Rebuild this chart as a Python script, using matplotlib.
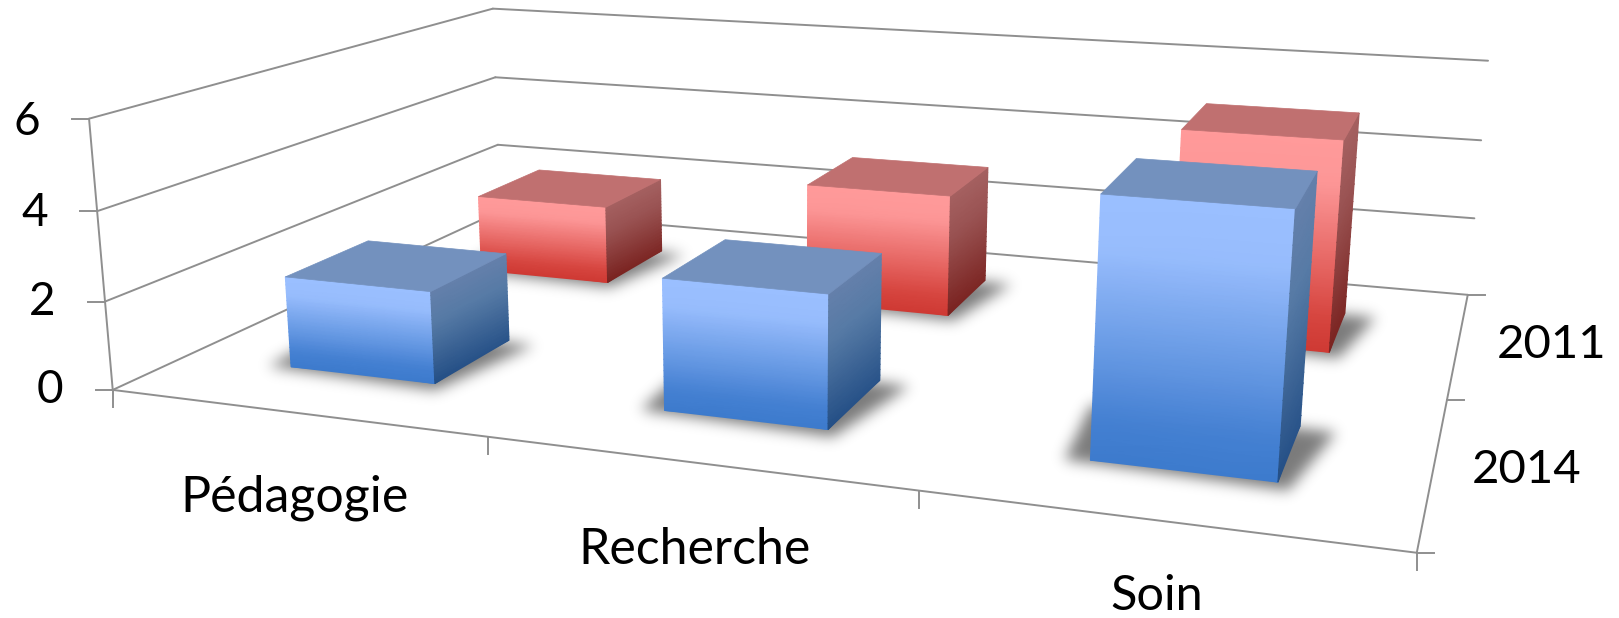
import numpy as np
import matplotlib
matplotlib.use("Agg")
import matplotlib.pyplot as plt
from matplotlib.colors import LinearSegmentedColormap
from matplotlib.path import Path

categories = ["Pédagogie", "Recherche", "Soin"]
series_names = ["2014", "2011"]
values_2014 = [2.1, 2.9, 5.4]
values_2011 = [2, 3, 5]
value_ticks = [0, 2, 4, 6]

# where known corners of the box landed in the picture: (cat, depth, value) -> pixel
box_points = [
    (0, 0, 0, 113, 388), (0, 0, 2, 105, 300), (0, 0, 4, 97, 211), (0, 0, 6, 89, 119),
    (1, 0, 0, 488, 438), (2, 0, 0, 920, 494), (3, 0, 0, 1415, 552),
    (0, 2, 0, 500, 212), (0, 2, 2, 498, 145), (0, 2, 4, 495, 77), (0, 2, 6, 493, 9),
    (3, 2, 0, 1467, 294), (3, 2, 2, 1475, 218), (3, 2, 4, 1481, 140), (3, 2, 6, 1488, 61),
    (3, 1, 0, 1448, 400),
]

W, H = 1619, 618
GRID = "#8f8f8f"
BAR_HALF_W = 0.2
BAR_HALF_D = 0.195
BAR_SHIFT = -0.003


def fit_camera(points):
    rows = []
    for x, y, z, u, v in points:
        u, v = u / 1000, v / 1000
        rows.append([x, y, z, 1, 0, 0, 0, 0, -u * x, -u * y, -u * z, -u])
        rows.append([0, 0, 0, 0, x, y, z, 1, -v * x, -v * y, -v * z, -v])
    return np.linalg.svd(np.array(rows, float))[2][-1].reshape(3, 4)


CAMERA = fit_camera(box_points)


def project(x, y, z):
    x, y, z = np.broadcast_arrays(x, y, z)
    pts = np.stack([x, y, z, np.ones_like(x, dtype=float)], axis=-1)
    res = pts @ CAMERA.T
    return res[..., 0] / res[..., 2] * 1000, res[..., 1] / res[..., 2] * 1000


def line3d(ax, a, b):
    u, v = project(np.array([a[0], b[0]], float), np.array([a[1], b[1]], float), np.array([a[2], b[2]], float))
    ax.plot(u, v, color=GRID, lw=1.4, solid_capstyle="round", zorder=1)


def shaded_face(ax, xs, ys, zs, cmap, t):
    u, v = project(xs, ys, zs)
    ax.pcolormesh(u, v, t, cmap=cmap, vmin=0, vmax=1, shading="gouraud", zorder=3)


def draw_shadows(ax, centers, cy, sigma=7, strength=0.52):
    # soft shadows: fill the pushed-out footprints, blur them, show as an alpha image
    gx, gy = np.meshgrid(np.arange(W) + 0.5, np.arange(H) + 0.5)
    grid = np.column_stack([gx.ravel(), gy.ravel()])
    mask = np.zeros(W * H)
    y0, y1 = cy - BAR_HALF_D, cy + BAR_HALF_D
    for cx in centers:
        x0, x1 = cx - BAR_HALF_W, cx + BAR_HALF_W
        xs = np.array([x0 - 0.055, x1 + 0.025, x1 + 0.08, x0 - 0.08])
        ys = np.array([y0 - 0.015, y0 - 0.045, y1 - 0.02, y1 - 0.01])
        u, v = project(xs, ys, np.zeros(4))
        mask[Path(np.column_stack([u, v])).contains_points(grid)] = 1
    mask = mask.reshape(H, W)
    kernel = np.exp(-0.5 * (np.arange(-21, 22) / sigma) ** 2)
    kernel /= kernel.sum()
    mask = np.apply_along_axis(np.convolve, 0, mask, kernel, mode="same")
    mask = np.apply_along_axis(np.convolve, 1, mask, kernel, mode="same")
    rgba = np.zeros((H, W, 4))
    rgba[..., 3] = mask * strength
    ax.imshow(rgba, extent=(0, W, H, 0), aspect="auto", interpolation="bilinear", zorder=2)


def draw_bar(ax, cx, cy, value, front_cmap, side_cmap, top_color):
    x0, x1 = cx - BAR_HALF_W, cx + BAR_HALF_W
    y0, y1 = cy - BAR_HALF_D, cy + BAR_HALF_D
    zs = np.linspace(value, 0, 24)
    t = np.linspace(0, 1, 24)

    X, Z = np.meshgrid([x0, x1], zs)
    shaded_face(ax, X, np.full(X.shape, y0), Z, front_cmap, np.column_stack([t, t]))

    Y, Z = np.meshgrid([y0, y1], zs)
    shaded_face(ax, np.full(Y.shape, x1), Y, Z, side_cmap, np.column_stack([t, t * 0.92]))

    u, v = project(np.array([x0, x1, x1, x0]), np.array([y0, y0, y1, y1]), np.full(4, value))
    ax.fill(u, v, color=top_color, lw=0.5, ec=top_color, zorder=3)


blue_front = LinearSegmentedColormap.from_list("bf", [(0, "#9abfff"), (0.2, "#98bdfd"), (0.85, "#4480d2"), (1, "#3d7bcd")])
blue_side = LinearSegmentedColormap.from_list("bs", [(0, "#6580ab"), (0.35, "#567aa5"), (1, "#244f86")])
red_front = LinearSegmentedColormap.from_list("rf", [(0, "#ff9a9a"), (0.2, "#fd9797"), (0.85, "#d6443e"), (1, "#cf3a34")])
red_side = LinearSegmentedColormap.from_list("rs", [(0, "#a56161"), (0.35, "#995252"), (1, "#7a2320")])

fig = plt.figure(figsize=(W / 100, H / 100), dpi=100)
ax = fig.add_axes([0, 0, 1, 1])

# walls and floor
for val in value_ticks:
    line3d(ax, (0, 0, val), (0, 2, val))
    line3d(ax, (0, 2, val), (3, 2, val))
    u, v = project(0.0, 0.0, float(val))
    ax.plot([u - 17, u], [v, v], color=GRID, lw=1.4, zorder=1)
line3d(ax, (0, 0, 0), (0, 0, 6))
line3d(ax, (0, 0, 0), (3, 0, 0))
line3d(ax, (3, 0, 0), (3, 2, 0))
for i in range(len(categories) + 1):
    u, v = project(float(i), 0.0, 0.0)
    ax.plot([u, u], [v, v + 17], color=GRID, lw=1.4, zorder=1)
for j in range(len(series_names) + 1):
    u, v = project(3.0, float(j), 0.0)
    ax.plot([u, u + 17], [v, v], color=GRID, lw=1.4, zorder=1)

centers = [i + 0.5 + BAR_SHIFT for i in range(len(categories))]

# back row first so the front row paints over it
draw_shadows(ax, centers, 1.5)
for cx, val in zip(centers, values_2011):
    draw_bar(ax, cx, 1.5, val, red_front, red_side, "#c07070")
draw_shadows(ax, centers, 0.5)
for cx, val in zip(centers, values_2014):
    draw_bar(ax, cx, 0.5, val, blue_front, blue_side, "#7391be")

font = dict(family="Lato", color="black", ha="center", va="center", zorder=5)
for val, (u, v) in zip(value_ticks, [(50, 390), (42, 302), (35, 213), (27, 122)]):
    ax.text(u, v, str(val), fontsize=33, **font)
ax.text(294, 498, categories[0], fontsize=36, **font)
ax.text(694, 550, categories[1], fontsize=36, **font)
ax.text(1157, 596, categories[2], fontsize=35, **font)
ax.text(1527, 470, series_names[0], fontsize=34, **font)
ax.text(1552, 345, series_names[1], fontsize=34, **font)

ax.set_xlim(0, W)
ax.set_ylim(H, 0)
ax.axis("off")

fig.savefig("out.png", dpi=100, facecolor="white")
